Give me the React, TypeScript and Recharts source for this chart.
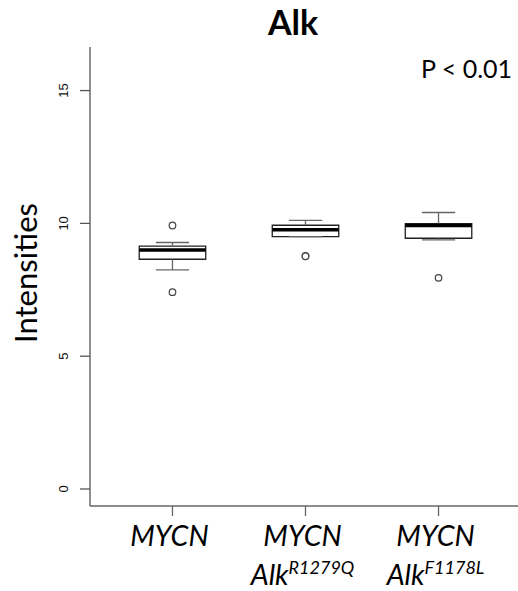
import React from 'react';
import { ComposedChart, XAxis, YAxis, Scatter, ReferenceArea, ReferenceLine } from 'recharts';

const groupPositions = [1, 2, 3];
const labelLine1 = ['MYCN', 'MYCN', 'MYCN'];
const labelLine2 = ['', 'Alk', 'Alk'];
const labelSup = ['', 'R1279Q', 'F1178L'];

const whiskerLow = [8.25, 9.5, 9.38];
const q1 = [8.65, 9.5, 9.44];
const median = [9.0, 9.76, 9.92];
const q3 = [9.14, 9.93, 9.99];
const whiskerHigh = [9.28, 10.11, 10.41];

const outlierGroup = [1, 1, 2, 2, 3];
const outlierValue = [9.92, 7.41, 8.78, 8.76, 7.95];

const yTicks = [0, 5, 10, 15];
const yDomain = [-0.64, 16.64];
const xDomain = [0.38, 3.62];

const titleText = 'Alk';
const pText = 'P < 0.01';
const yLabelText = 'Intensities';

const FONT = 'Lato, "Open Sans", sans-serif';

const outlierData = outlierGroup.map((g, i) => ({ x: g, y: outlierValue[i] }));

const BOX_HALF = 0.25;
const CAP_HALF = 0.125;

const YTick = (props: any) => {
  const { x, y, payload } = props;
  return (
    <text
      transform={`translate(${x - 10},${y}) rotate(-90)`}
      textAnchor="middle"
      fontSize={13}
      fontFamily="'Liberation Sans', Arial, sans-serif"
      fill="#111"
    >
      {payload.value}
    </text>
  );
};

const XTick = (props: any) => {
  const { x, y, payload } = props;
  const idx = groupPositions.indexOf(payload.value);
  if (idx < 0) return null;
  return (
    <g>
      <text x={x - 3} y={y + 28} textAnchor="middle" fontSize={28.5} fontStyle="italic" fontFamily={FONT} fill="#000">
        {labelLine1[idx]}
      </text>
      {labelLine2[idx] ? (
        <text x={x - 3} y={y + 67} textAnchor="middle" fontSize={28.5} fontStyle="italic" fontFamily={FONT} fill="#000">
          {labelLine2[idx]}
          <tspan fontSize={18} dy={-11}>{labelSup[idx]}</tspan>
        </text>
      ) : null}
    </g>
  );
};

const OutlierShape = (props: any) => {
  const { cx, cy } = props;
  return <circle cx={cx} cy={cy} r={3.3} fill="#fff" stroke="#444" strokeWidth={1.2} />;
};

export default function App() {
  return (
    <div style={{ position: 'absolute', left: 0, top: 0, width: 518, height: 591, overflow: 'hidden', background: '#fff' }}>
      <ComposedChart width={524} height={591} margin={{ top: 47, right: 3, bottom: 0, left: 0 }}>
        <XAxis
          xAxisId={0}
          type="number"
          dataKey="x"
          domain={xDomain}
          ticks={groupPositions}
          allowDataOverflow
          height={85}
          tickSize={10}
          axisLine={{ stroke: '#666', strokeWidth: 1.3 }}
          tickLine={{ stroke: '#666', strokeWidth: 1.3 }}
          tick={<XTick />}
          interval={0}
        />
        <XAxis
          xAxisId="top"
          orientation="top"
          type="number"
          domain={xDomain}
          allowDataOverflow
          height={0}
          tick={false}
          tickLine={false}
          axisLine={{ stroke: '#444', strokeWidth: 1.3 }}
        />
        <YAxis
          type="number"
          domain={yDomain}
          ticks={yTicks}
          allowDataOverflow
          width={90}
          tickSize={10}
          axisLine={{ stroke: '#555', strokeWidth: 1.3 }}
          tickLine={{ stroke: '#555', strokeWidth: 1.3 }}
          tick={<YTick />}
          interval={0}
        />
        {groupPositions.map((p, i) => (
          <ReferenceLine
            key={`wu${i}`}
            segment={[{ x: p, y: q3[i] }, { x: p, y: whiskerHigh[i] }]}
            stroke="#666"
            strokeWidth={1.3}
          />
        ))}
        {groupPositions.map((p, i) => (
          <ReferenceLine
            key={`wl${i}`}
            segment={[{ x: p, y: whiskerLow[i] }, { x: p, y: q1[i] }]}
            stroke="#666"
            strokeWidth={1.3}
          />
        ))}
        {groupPositions.map((p, i) => (
          <ReferenceLine
            key={`cu${i}`}
            segment={[{ x: p - CAP_HALF, y: whiskerHigh[i] }, { x: p + CAP_HALF, y: whiskerHigh[i] }]}
            stroke="#666"
            strokeWidth={1.3}
          />
        ))}
        {groupPositions.map((p, i) => (
          <ReferenceLine
            key={`cl${i}`}
            segment={[{ x: p - CAP_HALF, y: whiskerLow[i] }, { x: p + CAP_HALF, y: whiskerLow[i] }]}
            stroke="#666"
            strokeWidth={1.3}
          />
        ))}
        {groupPositions.map((p, i) => (
          <ReferenceArea
            key={`b${i}`}
            x1={p - BOX_HALF}
            x2={p + BOX_HALF}
            y1={q1[i]}
            y2={q3[i]}
            fill="#fff"
            fillOpacity={1}
            stroke="#222"
            strokeWidth={1.3}
          />
        ))}
        {groupPositions.map((p, i) => (
          <ReferenceLine
            key={`m${i}`}
            segment={[{ x: p - BOX_HALF, y: median[i] }, { x: p + BOX_HALF, y: median[i] }]}
            stroke="#000"
            strokeWidth={3.5}
          />
        ))}
        <Scatter data={outlierData} dataKey="y" shape={<OutlierShape />} isAnimationActive={false} />
      </ComposedChart>
      <div
        style={{
          position: 'absolute', left: 0, width: 586, top: 2, textAlign: 'center',
          fontFamily: FONT, fontWeight: 700, fontSize: 34, lineHeight: '40px', color: '#000',
        }}
      >
        {titleText}
      </div>
      <div
        style={{
          position: 'absolute', left: 421, top: 53, fontFamily: FONT, fontSize: 25,
          lineHeight: '30px', color: '#000', whiteSpace: 'nowrap',
        }}
      >
        {pText}
      </div>
      <div
        style={{
          position: 'absolute', left: 25, top: 273, width: 0, height: 0,
        }}
      >
        <div
          style={{
            position: 'absolute', left: -150, top: -20, width: 300, height: 40, textAlign: 'center',
            transform: 'rotate(-90deg)', fontFamily: FONT, fontSize: 31, lineHeight: '40px', color: '#000',
          }}
        >
          {yLabelText}
        </div>
      </div>
    </div>
  );
}
